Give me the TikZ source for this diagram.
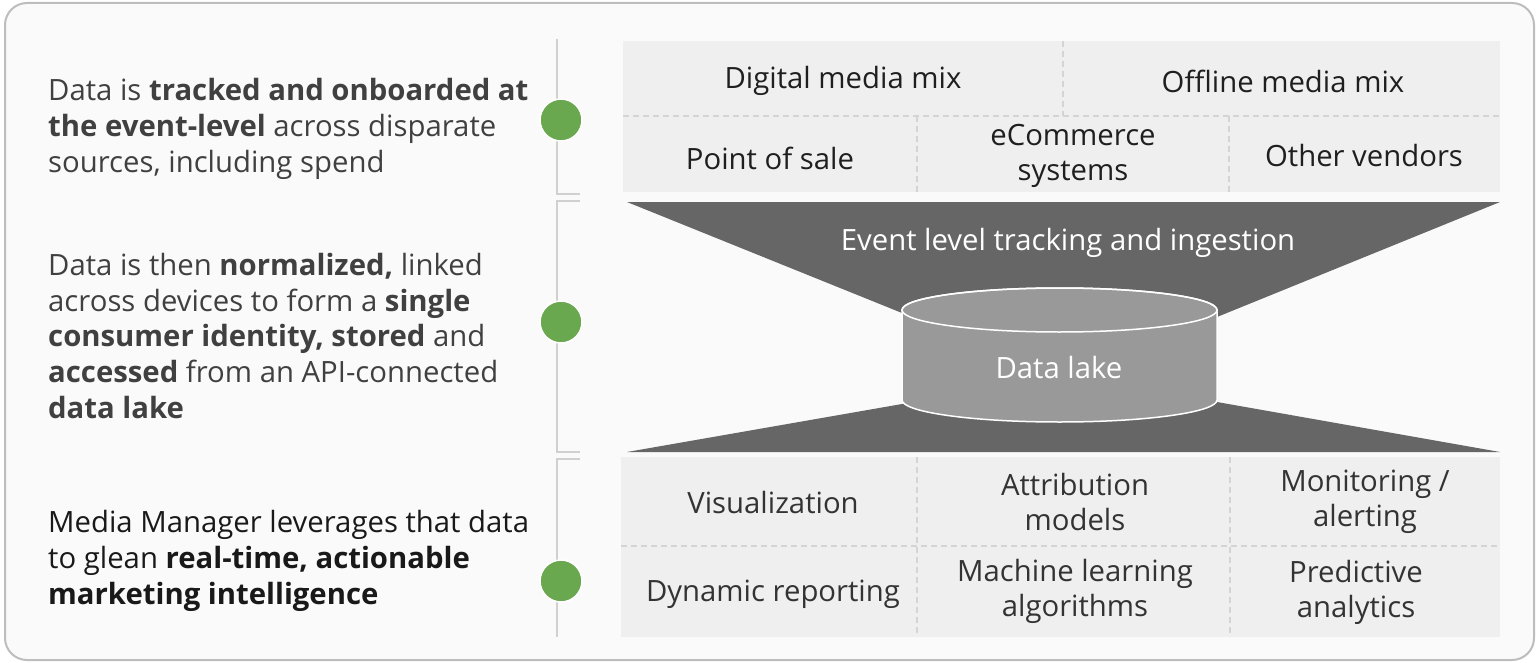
\documentclass[tikz,border=0pt]{standalone}
\usepackage{fontspec}
\setmainfont{Open Sans}
\definecolor{framegray}{HTML}{BDBDBD}
\definecolor{panel}{HTML}{FAFAFA}
\definecolor{cellfill}{HTML}{EFEFEF}
\definecolor{dashgray}{HTML}{D4D4D4}
\definecolor{railgray}{HTML}{D0D0D0}
\definecolor{funnel}{HTML}{666666}
\definecolor{lake}{HTML}{999999}
\definecolor{dotgreen}{HTML}{6AA84F}
\definecolor{ink}{HTML}{404040}
\tikzset{
  cell/.style={align=center, inner sep=0pt, text=black!88, font=\fontsize{29.3}{35}\selectfont},
  note/.style={anchor=west, align=left, inner sep=0pt, text=ink, font=\fontsize{29.3}{35.8}\selectfont},
  dot/.style={circle, fill=dotgreen, draw=white, line width=1.5pt, minimum size=42pt, inner sep=0pt},
  sep/.style={draw=dashgray, line width=1.5pt, dash pattern=on 6pt off 4pt},
  rail/.style={draw=railgray, line width=2pt},
}
\begin{document}
\begin{tikzpicture}[x=1pt,y=-1pt]
    \useasboundingbox (0,0) rectangle (1538,663);
    \draw[framegray, line width=2pt, fill=panel, rounded corners=22pt] (5,3) rectangle (1534,660);
    % rail with brackets
    \draw[rail] (557,39) -- (557,194) -- (580,194);
    \draw[rail] (580,201) -- (557,201) -- (557,452) -- (580,452);
    \draw[rail] (580,459) -- (557,459) -- (557,637);
    \node[dot] (d1) at (561,120) {};
    \node[dot] (d2) at (561,322) {};
    \node[dot] (d3) at (561,581) {};
    % notes
    \node[note] (track) at (48,129) {Data is \textbf{tracked and onboarded at}\\\textbf{the event-level} across disparate\\sources, including spend};
    \node[note] (norm) at (48,336) {Data is then \textbf{normalized,} linked\\across devices to form a \textbf{single}\\\textbf{consumer identity, stored} and\\\textbf{accessed} from an API-connected\\\textbf{data lake}};
    \node[note, text=black!90] (glean) at (48,561) {Media Manager leverages that data\\to glean \textbf{real-time, actionable}\\\textbf{marketing intelligence}};
    % sources
    \fill[cellfill] (623,41) rectangle (1500,192);
    \draw[sep] (623,116) -- (1500,116) (1063,41) -- (1063,116) (917,116) -- (917,192) (1229,116) -- (1229,192);
    \node[cell] (dig) at (843,81) {Digital media mix};
    \node[cell] (off) at (1283,81) {Offline media mix};
    \node[cell] (pos) at (770,158) {Point of sale};
    \node[cell] (ecom) at (1073,156) {eCommerce\\systems};
    \node[cell] (vend) at (1364,156) {Other vendors};
    % funnel and lake
    \fill[funnel] (627,202) -- (1500,202) -- (1217,317) -- (902,313) -- cycle;
    \fill[funnel] (902,404) -- (627,452) -- (1500,452) -- (1217,402) -- cycle;
    \draw[white, line width=1.5pt, fill=lake] (902,310) -- (902,400) arc[start angle=180, end angle=360, x radius=157.5pt, y radius=22pt] -- (1217,310) arc[start angle=0, end angle=180, x radius=157.5pt, y radius=22pt] -- cycle;
    \draw[white, line width=1.5pt] (1059.5,310) ellipse [x radius=157.5pt, y radius=22pt];
    \node[cell, text=white] (ingest) at (1068,243) {Event level tracking and ingestion};
    \node[cell, text=white] (lakelbl) at (1059,368) {Data lake};
    % outputs
    \fill[cellfill] (621,457) rectangle (1500,637);
    \draw[sep] (621,546) -- (1500,546) (917,457) -- (917,637) (1230,457) -- (1230,637);
    \node[cell, text=black!80] (vis) at (773,503) {Visualization};
    \node[cell, text=black!80] (attr) at (1075,502) {Attribution\\models};
    \node[cell, text=black!80] (mon) at (1365,502) {Monitoring /\\alerting};
    \node[cell, text=black!80] (dyn) at (773,594) {Dynamic reporting};
    \node[cell, text=black!80] (ml) at (1075,591) {Machine learning\\algorithms};
    \node[cell, text=black!80] (pred) at (1356,592) {Predictive\\analytics};
\end{tikzpicture}
\end{document}
